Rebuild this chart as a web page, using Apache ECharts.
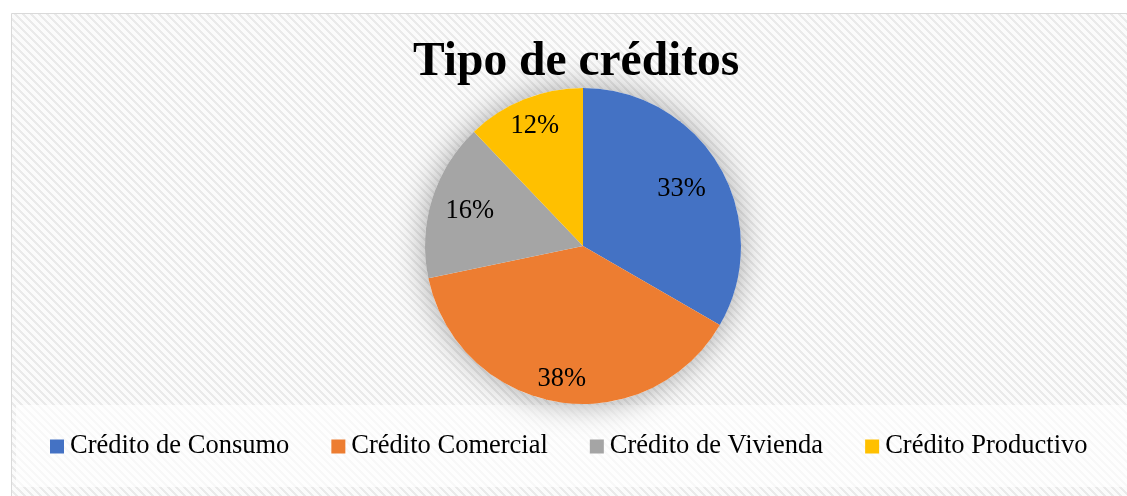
<!DOCTYPE html>
<html lang="es">

<head>
  <meta charset='utf-8'>
  <title>Tipo de créditos</title>
  <style>
    html, body { margin: 0; padding: 0; background: #fff; }
  </style>
</head>

<body>
  <div id="myCharts" style="width: 1127px;height:496px;"></div>
  <script src="https://cdn.jsdelivr.net/npm/echarts@6/dist/echarts.min.js"></script>
  <script type="text/javascript">
    // categorías y valores (%)
    var categories = ['Crédito de Consumo', 'Crédito Comercial', 'Crédito de Vivienda', 'Crédito Productivo'];
    var values = [33, 38, 16, 12];
    var colors = ['#4472C4', '#ED7D31', '#A5A5A5', '#FFC000'];

    // geometría del pastel
    var pieCenter = [583, 246];
    var pieRadius = 158;
    // distancia de cada etiqueta al centro (fracción del radio)
    var labelRadius = [0.72, 0.85, 0.75, 0.82];

    // textura diagonal del fondo
    var tile = document.createElement('canvas');
    tile.width = 8;
    tile.height = 8;
    var ctx = tile.getContext('2d');
    ctx.fillStyle = '#fbfbfb';
    ctx.fillRect(0, 0, 8, 8);
    ctx.fillStyle = '#eaeaea';
    for (var x = 0; x < 8; x++) {
      for (var y = 0; y < 8; y++) {
        if (((x - y) % 8 + 8) % 8 < 3) ctx.fillRect(x, y, 1, 1);
      }
    }

    var pieData = categories.map(function (name, i) {
      return { name: name, value: values[i], itemStyle: { color: colors[i] } };
    });

    var myChart = echarts.init(document.getElementById('myCharts'));
    var chartOption = {
      backgroundColor: '#fff',
      animation: false,
      graphic: [
        {
          type: 'rect',
          z: -10,
          shape: { x: 11.5, y: 13.5, width: 1130, height: 500 },
          style: { fill: { image: tile, repeat: 'repeat' }, stroke: '#d9d9d9', lineWidth: 1 }
        },
        {
          type: 'rect',
          z: -9,
          shape: { x: 16, y: 405, width: 1120, height: 82 },
          style: { fill: 'rgba(255,255,255,0.65)' }
        }
      ],
      title: {
        text: 'Tipo de créditos',
        left: 413,
        top: 39,
        padding: 0,
        textStyle: {
          fontFamily: 'Liberation Serif',
          fontSize: 47.5,
          fontWeight: 'bold',
          color: '#000'
        }
      },
      legend: {
        data: categories,
        left: 50,
        top: 433,
        padding: 0,
        icon: 'rect',
        itemWidth: 14,
        itemHeight: 14,
        itemGap: 42,
        textStyle: {
          fontFamily: 'Liberation Serif',
          fontSize: 26.5,
          color: '#000',
          padding: [0, 0, 0, 1]
        }
      },
      series: [
        {
          // sombra suave detrás del pastel
          type: 'pie',
          silent: true,
          z: 1,
          center: pieCenter,
          radius: pieRadius,
          label: { show: false },
          labelLine: { show: false },
          itemStyle: {
            color: '#fff',
            shadowBlur: 32,
            shadowColor: 'rgba(0,0,0,0.35)'
          },
          data: [{ value: 1, name: '' }]
        },
        {
          type: 'pie',
          z: 2,
          center: pieCenter,
          radius: pieRadius,
          startAngle: 90,
          clockwise: true,
          label: {
            show: true,
            position: 'inside',
            formatter: function (p) { return p.value + '%'; },
            fontFamily: 'Liberation Serif',
            fontSize: 26.5,
            color: '#000'
          },
          labelLayout: function (p) {
            var r = labelRadius[p.dataIndex] * pieRadius;
            var lx = p.labelRect.x + p.labelRect.width / 2;
            var ly = p.labelRect.y + p.labelRect.height / 2;
            var dx = lx - pieCenter[0];
            var dy = ly - pieCenter[1];
            var d = Math.sqrt(dx * dx + dy * dy) || 1;
            return {
              x: pieCenter[0] + dx / d * r,
              y: pieCenter[1] + dy / d * r,
              align: 'center',
              verticalAlign: 'middle'
            };
          },
          itemStyle: { borderWidth: 0 },
          data: pieData
        }
      ]
    };
    myChart.setOption(chartOption);
  </script>
</body>

</html>
